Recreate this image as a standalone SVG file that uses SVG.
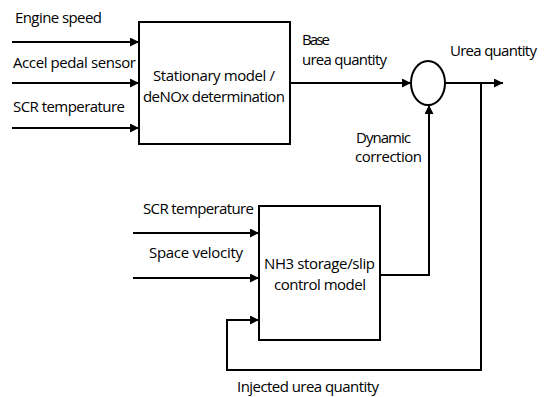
<svg xmlns="http://www.w3.org/2000/svg" width="547" height="397" viewBox="0 0 547 397">
<style>
text{font-family:"Open Sans","Noto Sans",sans-serif;font-size:15px;fill:#000}
.box{fill:#fff;stroke:#000;stroke-width:2}
.ln{fill:none;stroke:#000;stroke-width:2}
</style>
<defs>
<marker id="ah" viewBox="0 0 10 10" refX="10" refY="5" markerWidth="4.5" markerHeight="4.5" orient="auto" markerUnits="strokeWidth">
<path d="M0,0 L10,5 L0,10 z" fill="#000"/>
</marker>
</defs>
<rect width="547" height="397" fill="#fff"/>
<g id="connectors">
<line class="ln" x1="12" y1="42" x2="139" y2="42" marker-end="url(#ah)"/>
<line class="ln" x1="12" y1="83" x2="139" y2="83" marker-end="url(#ah)"/>
<line class="ln" x1="12" y1="128" x2="139" y2="128" marker-end="url(#ah)"/>
<line class="ln" x1="290" y1="83" x2="411" y2="83" marker-end="url(#ah)"/>
<line class="ln" x1="445" y1="83" x2="503" y2="83" marker-end="url(#ah)"/>
<polyline class="ln" points="481,83 481,370 227,370 227,320 259,320" marker-end="url(#ah)"/>
<polyline class="ln" points="380,275 429,275 429,105" marker-end="url(#ah)"/>
<line class="ln" x1="133" y1="233" x2="259" y2="233" marker-end="url(#ah)"/>
<line class="ln" x1="133" y1="278" x2="259" y2="278" marker-end="url(#ah)"/>
</g>
<g id="labels">
<text x="15" y="23" textLength="87">Engine speed</text>
<text x="13" y="68" textLength="123">Accel pedal sensor</text>
<text x="13" y="112" textLength="112">SCR temperature</text>
<text x="302" y="45" textLength="28">Base</text>
<text x="302" y="65" textLength="85">urea quantity</text>
<text x="450" y="56" textLength="87">Urea quantity</text>
<text x="356" y="143" textLength="55">Dynamic</text>
<text x="355" y="162" textLength="67">correction</text>
<text x="143" y="214" textLength="111">SCR temperature</text>
<text x="149" y="258" textLength="94">Space velocity</text>
<text x="237" y="392" textLength="142">Injected urea quantity</text>
</g>
<g id="stationary">
<rect class="box" x="139" y="22" width="151" height="122"/>
<text x="153" y="81" textLength="122">Stationary model /</text>
<text x="143" y="102" textLength="142">deNOx determination</text>
</g>
<g id="sum">
<ellipse class="box" cx="428" cy="83" rx="17" ry="22"/>
</g>
<g id="nh3">
<rect class="box" x="259" y="206" width="121" height="134"/>
<text x="264" y="269" textLength="111">NH3 storage/slip</text>
<text x="274" y="290" textLength="92">control model</text>
</g>
</svg>
